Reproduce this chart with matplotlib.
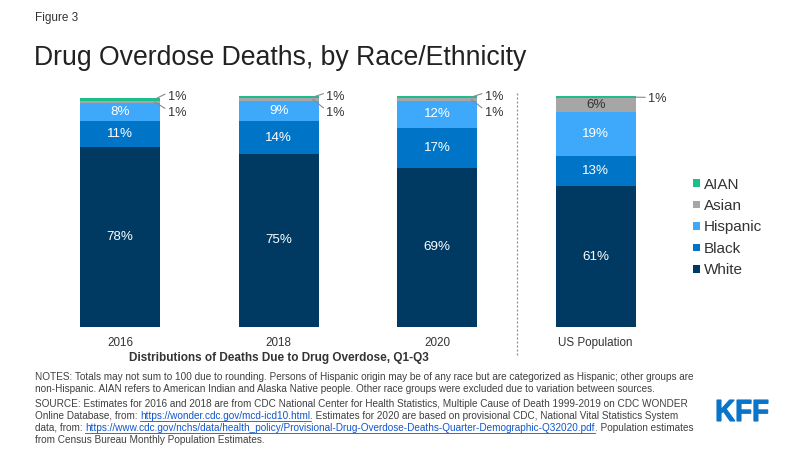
import matplotlib
matplotlib.use("Agg")
import matplotlib.pyplot as plt
import numpy as np
from matplotlib.textpath import TextPath
from matplotlib.patches import PathPatch, Rectangle
from matplotlib.font_manager import FontProperties
from matplotlib.transforms import Affine2D

plt.rcParams['font.family'] = ['Liberation Sans', 'DejaVu Sans']

# data
groups = ['2016', '2018', '2020', 'US Population']
races = ['White', 'Black', 'Hispanic', 'Asian', 'AIAN']
white = [78, 75, 69, 61]
black = [11, 14, 17, 13]
hispanic = [8, 9, 12, 19]
asian = [1, 1, 1, 6]
aian = [1, 1, 1, 1]
colors = ['#003a63', '#0075c7', '#3ea8fb', '#a6a6a6', '#1cbf8c']

series = [white, black, hispanic, asian, aian]

W, H = 800, 450
fig = plt.figure(figsize=(8, 4.5), dpi=100)
renderer = fig.canvas.get_renderer()


def fit_width(t, target_px):
    # scale a text's font size so it spans target_px
    w = t.get_window_extent(renderer).width
    t.set_fontsize(t.get_fontsize() * target_px / w)


ax = fig.add_axes([41 / W, 1 - 327 / H, 634 / W, 231 / H])

x = np.arange(len(groups))
bottom = np.zeros(len(groups))
for vals, name, c in zip(series, races, colors):
    ax.bar(x, vals, width=0.504, bottom=bottom, color=c, label=name)
    for i, v in enumerate(vals):
        if v >= 5:
            tc = '#333333' if name == 'Asian' else 'white'
            ax.text(x[i], bottom[i] + v / 2, f'{v}%', ha='center', va='center',
                    color=tc, fontsize=9.6)
    bottom += np.array(vals)

# leader-line labels for the small segments
lead = dict(arrowstyle='-', color='#7f8c99', lw=0.8, shrinkA=0, shrinkB=0)
for i in range(3):
    top = bottom[i]
    ax.annotate(f'{aian[i]}%', xy=(x[i] + 0.215, top - aian[i] / 2),
                xytext=(x[i] + 0.3, 99.6), fontsize=9.2, color='#333333',
                va='center', annotation_clip=False,
                arrowprops=dict(lead, relpos=(0, 0.85)))
    ax.annotate(f'{asian[i]}%', xy=(x[i] + 0.215, top - aian[i] - asian[i] / 2),
                xytext=(x[i] + 0.3, 92.6), fontsize=9.2, color='#333333',
                va='center', annotation_clip=False,
                arrowprops=dict(lead, relpos=(0, 0.75)))
ax.annotate(f'{aian[3]}%', xy=(x[3] + 0.23, bottom[3] - aian[3] / 2),
            xytext=(x[3] + 0.33, 98.9), fontsize=9.2, color='#333333',
            va='center', annotation_clip=False,
            arrowprops=dict(lead, relpos=(0, 0.6)))

ax.set_xlim(-0.5, 3.5)
ax.set_ylim(0, 100)
ax.set_yticks([])
ax.set_xticks(x)
ax.set_xticklabels(groups, fontsize=8.4, color='#333333')
ax.tick_params(axis='x', length=0, pad=7.5)
for s in ['top', 'right', 'left', 'bottom']:
    ax.spines[s].set_visible(False)

# divider
ax.axvline(2.5, ymin=-0.12, ymax=1.02, color='#7b93ad', lw=0.9,
           linestyle=(0, (1.6, 1.6)), clip_on=False)

xl = ax.text(1, -0.134, 'Distributions of Deaths Due to Drug Overdose, Q1-Q3',
             transform=ax.get_xaxis_transform(), ha='center', va='center',
             fontsize=9, fontweight='bold', color='#333333')
fit_width(xl, 301)

# legend, top to bottom
leg_y = [183, 204.5, 226, 247.5, 269]
for name, c, yp in zip(races[::-1], colors[::-1], leg_y):
    fig.add_artist(Rectangle((693 / W, 1 - (yp + 3.7) / H), 7.4 / W, 7.4 / H,
                             transform=fig.transFigure, color=c, lw=0))
    fig.text(704 / W, 1 - yp / H, name, fontsize=11, color='#333333',
             va='center_baseline')

fig.text(35 / W, 1 - 18 / H, 'Figure 3', fontsize=8.5, color='#333333', va='center')
fig.text(34 / W, 1 - 58 / H, 'Drug Overdose Deaths, by Race/Ethnicity',
         fontsize=19.2, color='#222222', va='center')

# notes
note_color = '#404040'
link_color = '#1155cc'
lines = [
    [('NOTES: Totals may not sum to 100 due to rounding. Persons of Hispanic origin may be of any race but are categorized as Hispanic; other groups are', False)],
    [('non-Hispanic. AIAN refers to American Indian and Alaska Native people. Other race groups were excluded due to variation between sources.', False)],
    [('SOURCE: Estimates for 2016 and 2018 are from CDC National Center for Health Statistics, Multiple Cause of Death 1999-2019 on CDC WONDER', False)],
    [('Online Database, from: ', False), ('https://wonder.cdc.gov/mcd-icd10.html', True),
     ('. Estimates for 2020 are based on provisional CDC, National Vital Statistics System', False)],
    [('data, from: ', False),
     ('https://www.cdc.gov/nchs/data/health_policy/Provisional-Drug-Overdose-Deaths-Quarter-Demographic-Q32020.pdf', True),
     ('. Population estimates', False)],
    [('from Census Bureau Monthly Population Estimates.', False)],
]
probe = fig.text(0, 0, lines[0][0][0], fontsize=7)
fit_width(probe, 660)
fs = probe.get_fontsize()
probe.remove()

ys = [377, 389, 404, 416, 428, 440]
for parts, yp in zip(lines, ys):
    xp = 35
    for txt, is_link in parts:
        t = fig.text(xp / W, 1 - yp / H, txt, fontsize=fs,
                     color=link_color if is_link else note_color, va='center')
        bb = t.get_window_extent(renderer)
        if is_link:
            fig.add_artist(plt.Line2D([bb.x0 / W, bb.x1 / W],
                                      [(bb.y0 + 0.2) / H, (bb.y0 + 0.2) / H],
                                      color=link_color, lw=0.6))
        xp = bb.x1

# KFF logo, condensed bold text
logo_ax = fig.add_axes([0, 0, 1, 1], zorder=-1)
logo_ax.set_xlim(0, W)
logo_ax.set_ylim(0, H)
logo_ax.axis('off')
tp = TextPath((0, 0), 'KFF', size=20,
              prop=FontProperties(family='Liberation Sans', weight='bold'))
ext = tp.get_extents()
tr = (Affine2D().translate(-ext.x0, -ext.y0)
      .scale(51 / ext.width, 21 / ext.height)
      .translate(717, H - 421))
logo_ax.add_patch(PathPatch(tr.transform_path(tp), color='#0a74c9', lw=0.8))

fig.savefig('out.png', dpi=100)
